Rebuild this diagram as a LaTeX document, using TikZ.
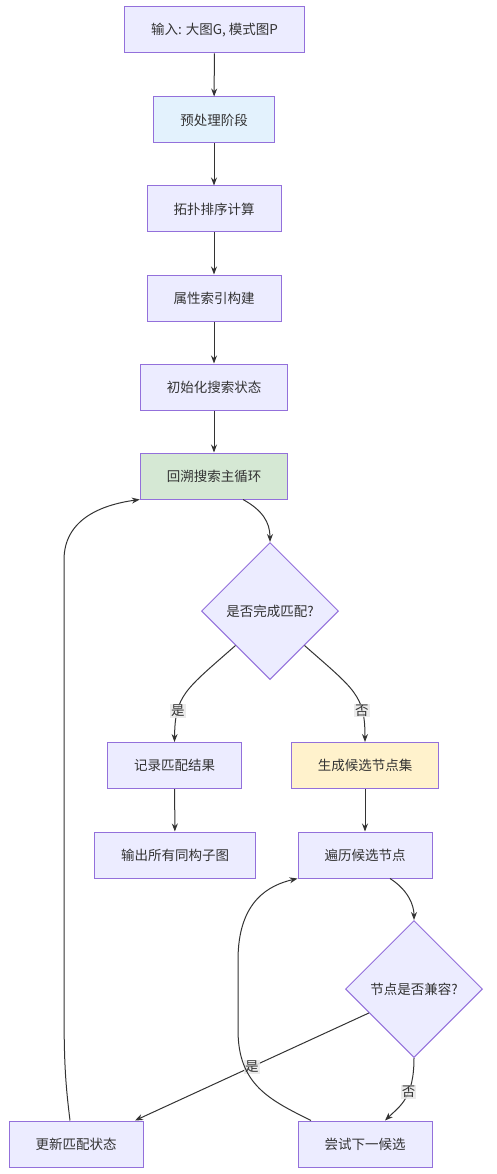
\documentclass[tikz,border=0pt]{standalone}
\usepackage{fontspec}
\setmainfont{Noto Sans CJK SC}
\usetikzlibrary{shapes,arrows.meta,positioning}
\definecolor{boxfill}{HTML}{ECECFF}
\definecolor{boxline}{HTML}{9370DB}
\definecolor{prefill}{HTML}{E3F2FD}
\definecolor{loopfill}{HTML}{D5E8D4}
\definecolor{candfill}{HTML}{FFF2CC}
\definecolor{edgeline}{HTML}{333333}
\definecolor{lblfill}{HTML}{E8E8E8}

\begin{document}
\begin{tikzpicture}[x=1pt, y=-1pt,
      every node/.append style={font=\fontsize{13.5}{16}\selectfont, text=edgeline},
      box/.style={draw=boxline, fill=boxfill, line width=1pt, minimum height=46pt, inner xsep=26.5pt},
      choice/.style={diamond, draw=boxline, fill=boxfill, line width=1pt, minimum width=137pt, minimum height=137pt, inner sep=0pt},
      flow/.style={draw=edgeline, line width=1pt, -{Stealth[length=8pt,width=6pt]}},
      lbl/.style={fill=lblfill, fill opacity=0.85, text opacity=1, inner sep=1pt}]
    \useasboundingbox (0,0) rectangle (497,1174);
    % main column
    \node (INPUT) [box] at (214.5,30) {输入: 大图G, 模式图P};
    \node (PRE) [box, fill=prefill] at (214,120) {预处理阶段};
    \node (TOPO) [box] at (214,209) {拓扑排序计算};
    \node (INDEX) [box] at (214,298) {属性索引构建};
    \node (INIT) [box] at (214,387) {初始化搜索状态};
    \node (LOOP) [box, fill=loopfill] at (214,476) {回溯搜索主循环};
    \node (DONE) [choice] at (270,611) {是否完成匹配?};
    % branches
    \node (RECORD) [box] at (174.5,765.5) {记录匹配结果};
    \node (OUTPUT) [box] at (175,855) {输出所有同构子图};
    \node (CAND) [box, fill=candfill] at (365,765.5) {生成候选节点集};
    \node (ITER) [box] at (365,855) {遍历候选节点};
    \node (COMPAT) [choice] at (414,989) {节点是否兼容?};
    \node (UPDATE) [box] at (76,1144) {更新匹配状态};
    \node (NEXT) [box] at (365,1144) {尝试下一候选};

    \draw [flow] (INPUT) -- (PRE);
    \draw [flow] (PRE) -- (TOPO);
    \draw [flow] (TOPO) -- (INDEX);
    \draw [flow] (INDEX) -- (INIT);
    \draw [flow] (INIT) -- (LOOP);
    \draw [flow] ([xshift=29pt]LOOP.south) .. controls (262,510) and (270,522) .. (DONE.north);
    \draw [flow] (DONE.south west) .. controls (185,690) and (175,695) .. (RECORD.north)
      node [lbl, pos=0.72] {是};
    \draw [flow] (DONE.south east) .. controls (355,690) and (365,695) .. (CAND.north)
      node [lbl, pos=0.72] {否};
    \draw [flow] (RECORD) -- (OUTPUT);
    \draw [flow] (CAND) -- (ITER);
    \draw [flow] ([xshift=25pt]ITER.south) .. controls (408,890) and (414,905) .. (COMPAT.north);
    \draw [flow] (COMPAT.208) -- ([xshift=59pt]UPDATE.north)
      node [lbl, pos=0.5] {是};
    \draw [flow] (COMPAT.south) .. controls (414,1098) and (400,1106) .. ([xshift=20pt]NEXT.north)
      node [lbl, pos=0.38] {否};
    \draw [flow] ([xshift=-54pt]NEXT.north) .. controls (270,1100) and (238,1085) .. (238,1030)
      -- (238,960) .. controls (238,900) and (270,885) .. (ITER.south west);
    \draw [flow] ([xshift=-6pt]UPDATE.north) .. controls (65,1080) and (64,1060) .. (64,1000)
      -- (64,560) .. controls (64,520) and (100,505) .. (LOOP.south west);
  \end{tikzpicture}
\end{document}
